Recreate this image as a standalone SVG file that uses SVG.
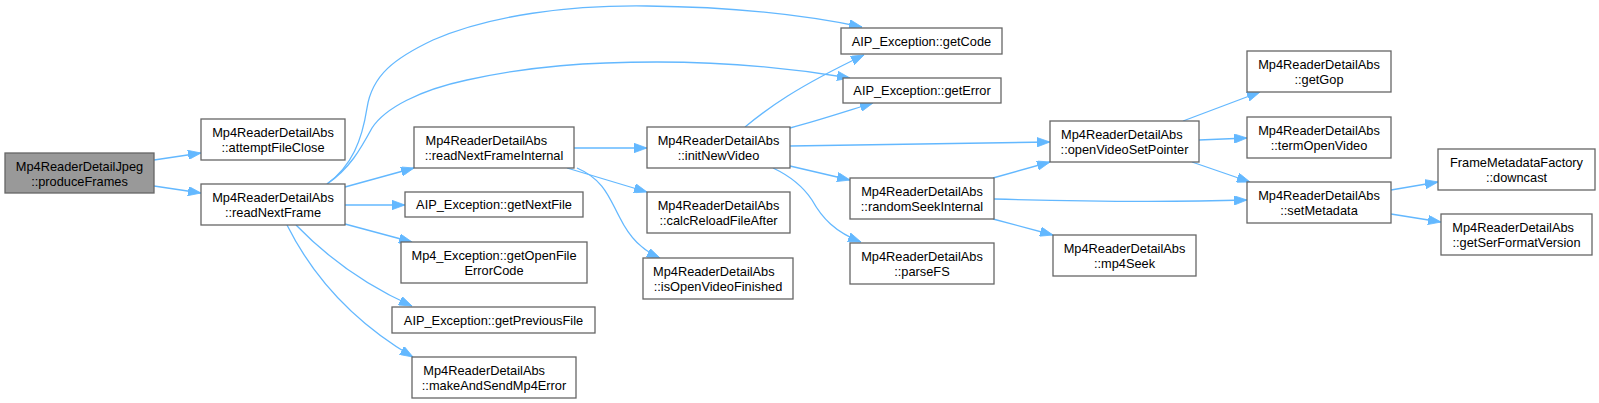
<svg xmlns="http://www.w3.org/2000/svg" width="1599" height="403" viewBox="0 0 1599 403">
<style>
.n rect{fill:#ffffff;stroke:#666666;stroke-width:1.3}
.n.root rect{fill:#999999}
.n text{font-family:"Liberation Sans",Arial,sans-serif;font-size:12.8px;fill:#000000}
.m{text-anchor:middle}
.s{text-anchor:start}
.e path{fill:none;stroke:#63b8ff;stroke-width:1.3;marker-end:url(#ah)}
</style>
<defs>
<marker id="ah" markerUnits="userSpaceOnUse" viewBox="0 0 13 9.4" refX="13" refY="4.7" markerWidth="13" markerHeight="9.4" orient="auto">
<path d="M0,0 L13,4.7 L0,9.4 z" fill="#63b8ff" stroke="#63b8ff" stroke-width="0.8"/>
</marker>
</defs>
<rect width="1599" height="403" fill="#ffffff"/>
<g class="e" id="edges">
<path d="M154,160 L201,153"/>
<path d="M154,186 L201,193"/>
<path d="M327,184 C352,166 362,140 367,108 C372,75 395,58 433,40 C490,15 570,5 647,6 C740,7 805,15 862,27"/>
<path d="M327,184 C350,168 360,150 372,128 C385,108 420,90 467,80 C530,66 590,62 657,62 C730,62 790,68 850,78"/>
<path d="M345,187 L414,168"/>
<path d="M345,205 L405,205"/>
<path d="M345,224 L412,242"/>
<path d="M296,225 C325,255 365,285 412,306"/>
<path d="M287,225 C312,275 350,320 413,357"/>
<path d="M574,148 L647,148"/>
<path d="M567,168 L647,192"/>
<path d="M577,168 C605,180 610,200 620,218 C630,238 642,250 660,258"/>
<path d="M745,127 C768,108 795,88 864,55"/>
<path d="M790,128 C820,120 850,110 873,103"/>
<path d="M790,146 L1050,142"/>
<path d="M790,166 L850,180"/>
<path d="M773,168 C790,176 802,185 812,200 C822,218 835,232 861,242"/>
<path d="M993,178 L1050,162"/>
<path d="M994,199 C1100,202 1180,202 1247,200"/>
<path d="M993,219 L1053,235"/>
<path d="M1183,121 L1260,92"/>
<path d="M1199,140 L1247,138"/>
<path d="M1192,162 L1250,182"/>
<path d="M1391,190 L1438,182"/>
<path d="M1391,214 L1441,222"/>
</g>
<g class="n root" id="produceFrames"><rect x="5" y="153" width="149" height="40"/><text class="m" x="79.5" y="171">Mp4ReaderDetailJpeg</text><text class="m" x="79.5" y="186">::produceFrames</text></g>
<g class="n" id="attemptFileClose"><rect x="201" y="119" width="144" height="41"/><text class="m" x="273" y="137">Mp4ReaderDetailAbs</text><text class="m" x="273" y="152">::attemptFileClose</text></g>
<g class="n" id="readNextFrame"><rect x="201" y="184" width="144" height="41"/><text class="m" x="273" y="202">Mp4ReaderDetailAbs</text><text class="m" x="273" y="217">::readNextFrame</text></g>
<g class="n" id="readNextFrameInternal"><rect x="414" y="127" width="160" height="41"/><text class="s" x="425.5" y="145">Mp4ReaderDetailAbs</text><text class="m" x="494" y="160">::readNextFrameInternal</text></g>
<g class="n" id="getNextFile"><rect x="405" y="192" width="178" height="25"/><text class="m" x="494" y="209">AIP_Exception::getNextFile</text></g>
<g class="n" id="getOpenFileErrorCode"><rect x="401" y="242" width="186" height="41"/><text class="m" x="494" y="260">Mp4_Exception::getOpenFile</text><text class="m" x="494" y="275">ErrorCode</text></g>
<g class="n" id="getPreviousFile"><rect x="392" y="307" width="203" height="26"/><text class="m" x="493.5" y="324.5">AIP_Exception::getPreviousFile</text></g>
<g class="n" id="makeAndSendMp4Error"><rect x="412" y="357" width="164" height="41"/><text class="s" x="423.3" y="375">Mp4ReaderDetailAbs</text><text class="m" x="494" y="390">::makeAndSendMp4Error</text></g>
<g class="n" id="initNewVideo"><rect x="647" y="127" width="143" height="41"/><text class="m" x="718.5" y="145">Mp4ReaderDetailAbs</text><text class="m" x="718.5" y="160">::initNewVideo</text></g>
<g class="n" id="calcReloadFileAfter"><rect x="647" y="192" width="143" height="41"/><text class="m" x="718.5" y="210">Mp4ReaderDetailAbs</text><text class="m" x="718.5" y="225">::calcReloadFileAfter</text></g>
<g class="n" id="isOpenVideoFinished"><rect x="643" y="258" width="150" height="41"/><text class="s" x="653" y="276">Mp4ReaderDetailAbs</text><text class="m" x="718" y="291">::isOpenVideoFinished</text></g>
<g class="n" id="getCode"><rect x="841" y="28" width="161" height="26"/><text class="m" x="921.5" y="45.6">AIP_Exception::getCode</text></g>
<g class="n" id="getError"><rect x="843" y="78" width="158" height="25"/><text class="m" x="922" y="95.1">AIP_Exception::getError</text></g>
<g class="n" id="openVideoSetPointer"><rect x="1050" y="121" width="149" height="41"/><text class="s" x="1061" y="139">Mp4ReaderDetailAbs</text><text class="m" x="1124.5" y="154">::openVideoSetPointer</text></g>
<g class="n" id="randomSeekInternal"><rect x="850" y="178" width="144" height="41"/><text class="m" x="922" y="196">Mp4ReaderDetailAbs</text><text class="m" x="922" y="211">::randomSeekInternal</text></g>
<g class="n" id="parseFS"><rect x="850" y="243" width="144" height="41"/><text class="m" x="922" y="261">Mp4ReaderDetailAbs</text><text class="m" x="922" y="276">::parseFS</text></g>
<g class="n" id="mp4Seek"><rect x="1053" y="235" width="143" height="41"/><text class="m" x="1124.5" y="253">Mp4ReaderDetailAbs</text><text class="m" x="1124.5" y="268">::mp4Seek</text></g>
<g class="n" id="getGop"><rect x="1247" y="51" width="144" height="41"/><text class="m" x="1319" y="69">Mp4ReaderDetailAbs</text><text class="m" x="1319" y="84">::getGop</text></g>
<g class="n" id="termOpenVideo"><rect x="1247" y="117" width="144" height="41"/><text class="m" x="1319" y="135">Mp4ReaderDetailAbs</text><text class="m" x="1319" y="150">::termOpenVideo</text></g>
<g class="n" id="setMetadata"><rect x="1247" y="182" width="144" height="41"/><text class="m" x="1319" y="200">Mp4ReaderDetailAbs</text><text class="m" x="1319" y="215">::setMetadata</text></g>
<g class="n" id="downcast"><rect x="1438" y="149" width="157" height="41"/><text class="m" x="1516.5" y="167">FrameMetadataFactory</text><text class="m" x="1516.5" y="182">::downcast</text></g>
<g class="n" id="getSerFormatVersion"><rect x="1441" y="214" width="151" height="41"/><text class="s" x="1452.3" y="232">Mp4ReaderDetailAbs</text><text class="m" x="1516.5" y="247">::getSerFormatVersion</text></g>
</svg>
